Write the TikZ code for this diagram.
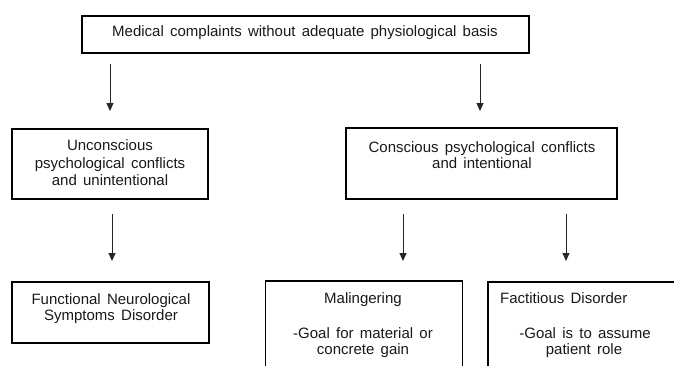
\documentclass[tikz,border=0pt]{standalone}
\usepackage{fontspec}
\setmainfont{Liberation Sans}[WordSpace=1.5]
\usetikzlibrary{arrows.meta}
\tikzset{
  boxnode/.style={draw=black, line width=1.6pt, inner sep=0pt},
  txt/.style={anchor=base, inner sep=0pt, font=\fontsize{15}{17}\selectfont, text=black!90},
  arr/.style={draw=black!85, line width=1pt, -{Triangle[width=7pt,length=8pt]}}
}
\begin{document}
\begin{tikzpicture}[x=1pt,y=-1pt]
\useasboundingbox (0,0) rectangle (674,365);
\clip (0,0) rectangle (674,365);
% boxes
\node[boxnode, minimum width=447pt, minimum height=37pt] (top) at (305.5,34.5) {};
\node[boxnode, minimum width=196pt, minimum height=70pt] (unc) at (110,164) {};
\node[boxnode, minimum width=271pt, minimum height=71pt] (con) at (481.5,163.5) {};
\node[boxnode, minimum width=197pt, minimum height=61pt] (fnd) at (110.5,312.5) {};
\node[boxnode, minimum width=197pt, minimum height=120pt] (mal) at (364,341) {};
\node[boxnode, minimum width=220pt, minimum height=120pt] (fac) at (598,342) {};
% texts
\node[txt] (t0) at (305,36) {Medical complaints without adequate physiological basis};
\node[txt] (u1) at (110,150) {Unconscious};
\node[txt] (u2) at (110,168) {psychological conflicts};
\node[txt] (u3) at (110,185) {and unintentional};
\node[txt] (c1) at (482,152) {Conscious psychological conflicts};
\node[txt] (c2) at (482,168) {and intentional};
\node[txt] (f1) at (111,304) {Functional Neurological};
\node[txt] (f2) at (111,320) {Symptoms Disorder};
\node[txt] (m1) at (363,303) {Malingering};
\node[txt] (m2) at (363,338) {-Goal for material or};
\node[txt] (m3) at (363,354) {concrete gain};
\node[txt, anchor=base west] (x1) at (500,303) {Factitious Disorder};
\node[txt] (x2) at (585,338) {-Goal is to assume};
\node[txt] (x3) at (584,354) {patient role};
% arrow end points
\coordinate (a1s) at (110,64);  \coordinate (a1e) at (110,111);
\coordinate (a2s) at (480,64);  \coordinate (a2e) at (480,111);
\coordinate (a3s) at (112,214); \coordinate (a3e) at (112,261);
\coordinate (a4s) at (403,214); \coordinate (a4e) at (403,261);
\coordinate (a5s) at (566,214); \coordinate (a5e) at (566,261);
\draw[arr] (a1s) -- (a1e);
\draw[arr] (a2s) -- (a2e);
\draw[arr] (a3s) -- (a3e);
\draw[arr] (a4s) -- (a4e);
\draw[arr] (a5s) -- (a5e);
\end{tikzpicture}
\end{document}
